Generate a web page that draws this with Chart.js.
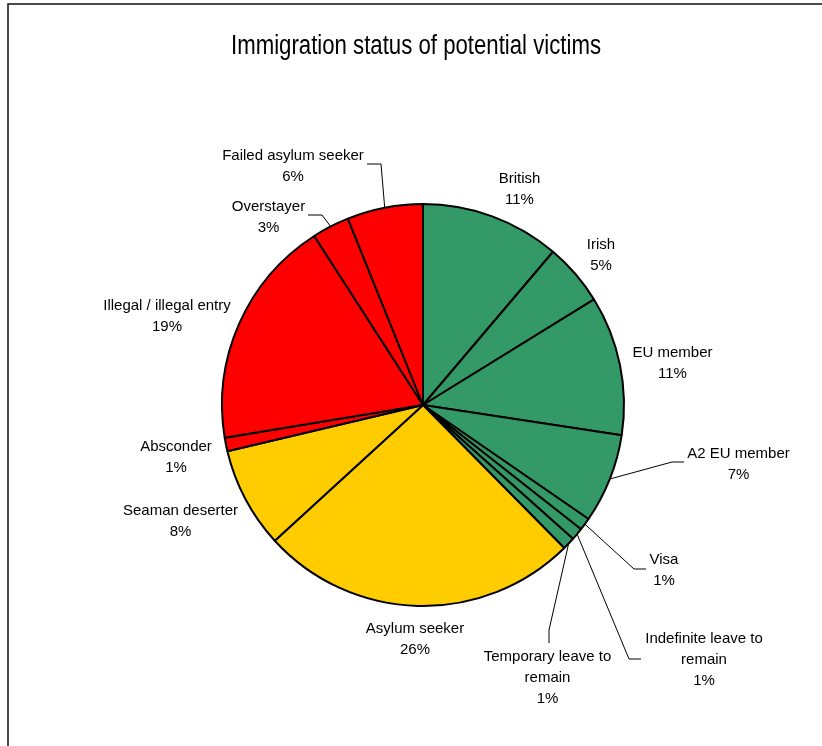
<!DOCTYPE html>
<html>
<head>
<meta charset="utf-8">
<title>Immigration status of potential victims</title>
<script src="https://cdn.jsdelivr.net/npm/chart.js@4.4.1/dist/chart.umd.min.js"></script>
<style>
  html, body { margin: 0; padding: 0; background: #ffffff; }
  canvas { display: block; }
</style>
</head>
<body>
<canvas id="chart" width="822" height="746" style="width:822px;height:746px"></canvas>
<script>
// Immigration status of potential victims, share of all referrals (%)
const chartTitle = 'Immigration status of potential victims';

const categories = [
  'British',
  'Irish',
  'EU member',
  'A2 EU member',
  'Visa',
  'Indefinite leave to\nremain',
  'Temporary leave to\nremain',
  'Asylum seeker',
  'Seaman deserter',
  'Absconder',
  'Illegal / illegal entry',
  'Overstayer',
  'Failed asylum seeker'
];

const shares = [11.2, 5.0, 11.2, 7.2, 1.0, 1.0, 1.0, 25.6, 8.1, 1.1, 18.5, 3.0, 6.1];

// status groups: settled / lawful (green), asylum & seamen (amber), irregular (red)
const GREEN = '#339966';
const AMBER = '#FFCC00';
const RED = '#FF0000';
const sliceColors = [GREEN, GREEN, GREEN, GREEN, GREEN, GREEN, GREEN,
                     AMBER, AMBER, RED, RED, RED, RED];

// label placement, relative to the pie centre: [dx, dy of first baseline]
const labelOffsets = [
  [96.5, -222], [178, -156], [249.5, -48], [315.5, 53], [241, 159],
  [281, 238], [124.5, 256], [-8, 228], [-242.5, 110], [-247, 46],
  [-256, -95], [-154.5, -194], [-130, -245]
];

// leader line elbows (relative to the pie centre); null = label sits free
const leaderElbows = [
  null, null, null,
  [[261, 57], [249, 57]],
  [[223, 164], [211, 164]],
  [[218, 254], [206, 254]],
  [[126, 238], [126, 225]],
  null, null, null, null,
  [[-115, -190], [-101, -190]],
  [[-56, -241], [-42, -241]]
];

const LABEL_FONT = '15px "Liberation Sans", Arial, Helvetica, sans-serif';
const LINE_STEP = 21;

const decorations = {
  id: 'decorations',
  beforeDraw(chart) {
    const ctx = chart.ctx;
    ctx.save();
    ctx.fillStyle = '#ffffff';
    ctx.fillRect(0, 0, chart.width, chart.height);

    // outer frame (left and top edges)
    ctx.strokeStyle = '#111111';
    ctx.lineWidth = 1.5;
    ctx.beginPath();
    ctx.moveTo(8, chart.height);
    ctx.lineTo(8, 4);
    ctx.lineTo(chart.width, 4);
    ctx.stroke();

    // title in a condensed face
    ctx.font = '27px "Liberation Sans Narrow", "Arial Narrow", "Liberation Sans", Arial, sans-serif';
    ctx.fillStyle = '#000000';
    ctx.textAlign = 'center';
    ctx.textBaseline = 'alphabetic';
    const w = ctx.measureText(chartTitle).width;
    const sx = 370 / w;
    ctx.translate(416, 54);
    ctx.scale(sx, 1);
    ctx.fillText(chartTitle, 0, 0);
    ctx.restore();
  },
  afterDatasetsDraw(chart) {
    const ctx = chart.ctx;
    const meta = chart.getDatasetMeta(0);
    const values = chart.data.datasets[0].data;
    const total = values.reduce((a, b) => a + b, 0);
    ctx.save();
    meta.data.forEach((arc, i) => {
      const p = arc.getProps(['x', 'y', 'startAngle', 'endAngle', 'outerRadius'], true);
      const mid = (p.startAngle + p.endAngle) / 2;
      const edgeX = p.x + Math.cos(mid) * p.outerRadius;
      const edgeY = p.y + Math.sin(mid) * p.outerRadius;

      const elbows = leaderElbows[i];
      if (elbows) {
        ctx.strokeStyle = '#000000';
        ctx.lineWidth = 1;
        ctx.beginPath();
        ctx.moveTo(p.x + elbows[0][0], p.y + elbows[0][1]);
        for (let k = 1; k < elbows.length; k++) {
          ctx.lineTo(p.x + elbows[k][0], p.y + elbows[k][1]);
        }
        ctx.lineTo(edgeX, edgeY);
        ctx.stroke();
      }

      const lines = chart.data.labels[i].split('\n');
      lines.push(Math.round(values[i] / total * 100) + '%');
      ctx.font = LABEL_FONT;
      ctx.fillStyle = '#000000';
      ctx.textAlign = 'center';
      ctx.textBaseline = 'alphabetic';
      const lx = p.x + labelOffsets[i][0];
      const ly = p.y + labelOffsets[i][1];
      lines.forEach((t, j) => ctx.fillText(t, lx, ly + j * LINE_STEP));
    });
    ctx.restore();
  }
};

new Chart(document.getElementById('chart'), {
  type: 'pie',
  data: {
    labels: categories,
    datasets: [{
      data: shares,
      backgroundColor: sliceColors,
      borderColor: '#000000',
      borderWidth: 2
    }]
  },
  options: {
    responsive: false,
    devicePixelRatio: 1,
    animation: false,
    rotation: 0,
    layout: { padding: { left: 221, right: 197, top: 203, bottom: 139 } },
    plugins: {
      legend: { display: false },
      tooltip: { enabled: false },
      title: { display: false }
    }
  },
  plugins: [decorations]
});
</script>
</body>
</html>
